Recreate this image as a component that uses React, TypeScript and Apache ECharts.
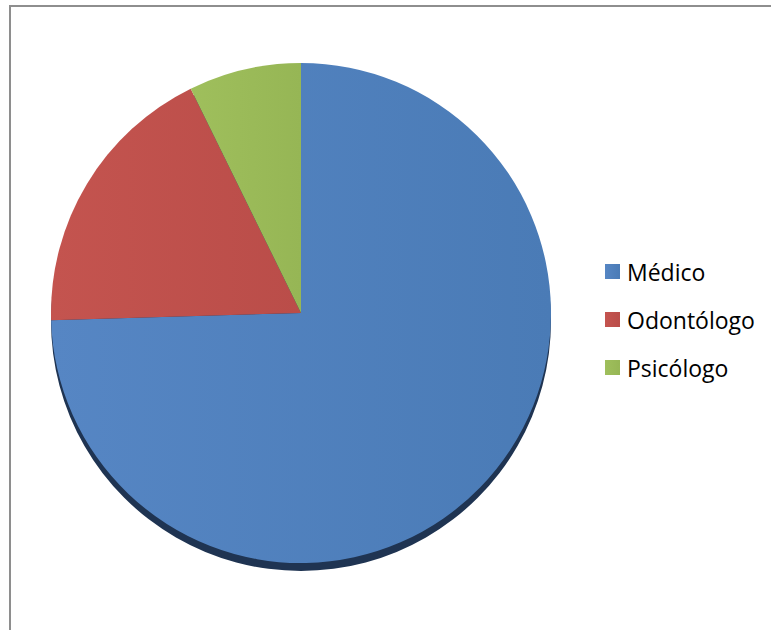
import React, { useEffect, useRef } from "react";
import * as echarts from "echarts";

const categories = ["Médico", "Odontólogo", "Psicólogo"];
const values = [41, 10, 4];
const colors = ["#4F81BD", "#C0504D", "#9BBB59"];
const colorsLight = ["#5686c4", "#c4544f", "#9fbf5c"];
const colorsDark = ["#4a7bb6", "#ba4d49", "#96b655"];

export default function App() {
  const ref = useRef<HTMLDivElement>(null);
  useEffect(() => {
    if (!ref.current) return;
    const chart = echarts.init(ref.current, null, { renderer: "svg" });
    const total = values.reduce((a, b) => a + b, 0);
    chart.setOption({
      animation: false,
      backgroundColor: "#ffffff",
      graphic: [
        {
          type: "rect",
          shape: { x: 10, y: 6, width: 800, height: 700 },
          style: { fill: "none", stroke: "#8e8e8e", lineWidth: 2 },
          silent: true,
          z: 0,
        },
      ],
      legend: {
        orient: "vertical",
        left: 605,
        top: 260,
        padding: 0,
        data: categories,
        icon: "rect",
        itemWidth: 15,
        itemHeight: 15,
        itemGap: 25,
        selectedMode: false,
        textStyle: {
          color: "#000000",
          fontFamily: "Open Sans",
          fontSize: 23,
          lineHeight: 23,
          padding: [0, 0, 0, 2],
        },
      },
      series: [
        {
          type: "pie",
          name: "shadow",
          silent: true,
          center: [301, 321],
          radius: 250,
          z: 1,
          label: { show: false },
          labelLine: { show: false },
          itemStyle: { color: "#1f3452" },
          data: [{ name: "_shadow", value: total }],
        },
        {
          type: "pie",
          center: [301, 313],
          radius: 250,
          startAngle: 90,
          clockwise: true,
          z: 2,
          label: { show: false },
          labelLine: { show: false },
          emphasis: { disabled: true },
          data: categories.map((name, i) => ({
            name,
            value: values[i],
            itemStyle: {
              color: new echarts.graphic.LinearGradient(0, 0, 1, 0, [
                { offset: 0, color: colorsLight[i] },
                { offset: 1, color: colorsDark[i] },
              ]),
            },
          })),
        },
      ],
      color: colors,
    });
    return () => chart.dispose();
  }, []);
  return (
    <div
      ref={ref}
      style={{ position: "fixed", left: 0, top: 0, width: 771, height: 630 }}
    />
  );
}
